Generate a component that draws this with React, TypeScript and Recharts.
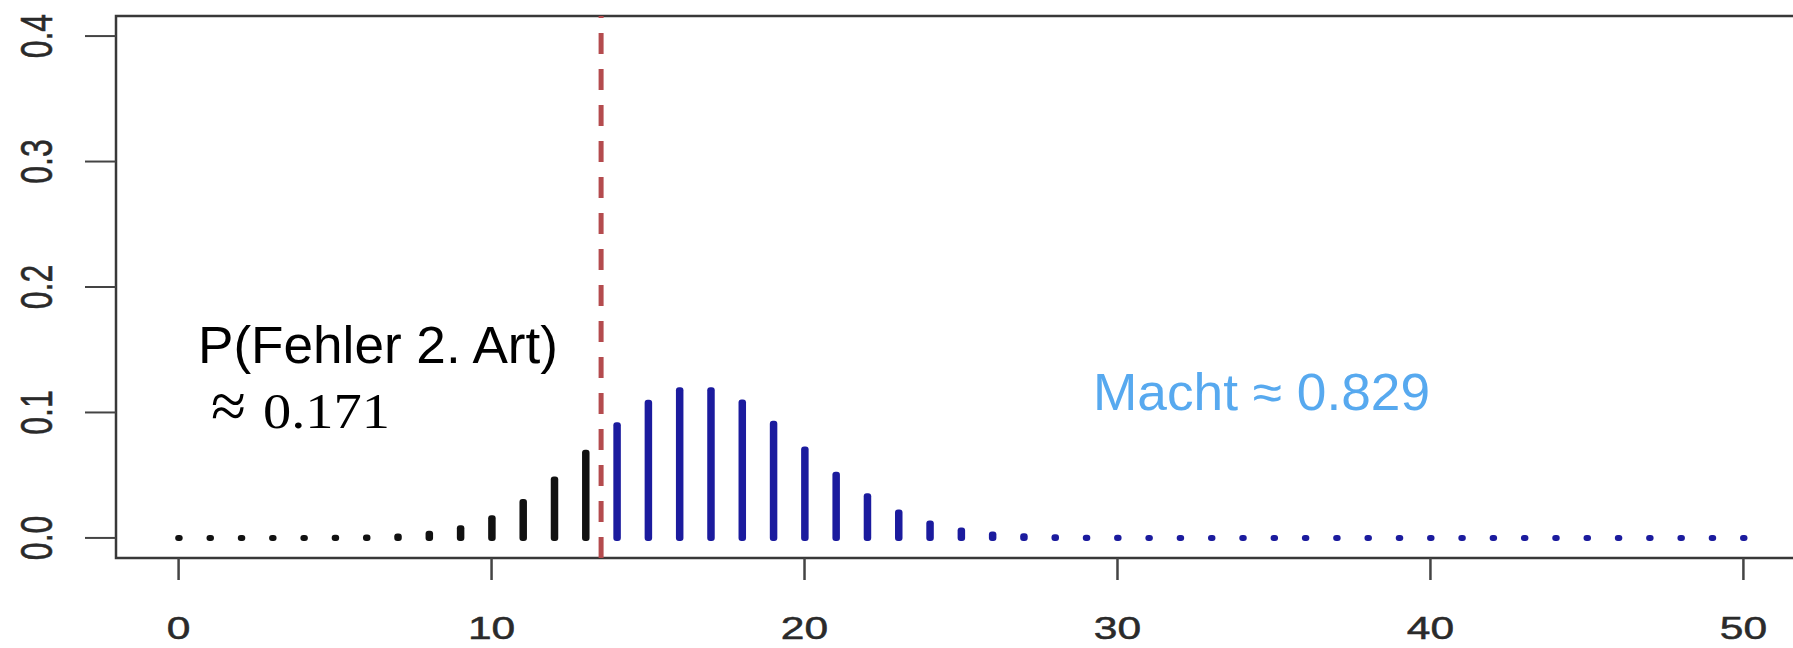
import React from "react";
import {
  Bar,
  ComposedChart,
  ReferenceArea,
  ReferenceLine,
  XAxis,
  YAxis,
} from "recharts";

// number of successes k = 0..50
const outcomes = [
  0, 1, 2, 3, 4, 5, 6, 7, 8, 9, 10, 11, 12, 13, 14, 15, 16, 17, 18, 19, 20,
  21, 22, 23, 24, 25, 26, 27, 28, 29, 30, 31, 32, 33, 34, 35, 36, 37, 38, 39,
  40, 41, 42, 43, 44, 45, 46, 47, 48, 49, 50,
];

// P(X = k)
const probabilities = [
  0, 0, 0, 0, 0.00001, 0.0001, 0.0004, 0.0012, 0.0033, 0.0077, 0.0157, 0.0286,
  0.0465, 0.0679, 0.0898, 0.1077, 0.1178, 0.1178, 0.108, 0.091, 0.0705, 0.0504,
  0.0332, 0.0202, 0.0114, 0.0059, 0.0028, 0.0013, 0.0005, 0.0002, 0.0001, 0, 0,
  0, 0, 0, 0, 0, 0, 0, 0, 0, 0, 0, 0, 0, 0, 0, 0, 0, 0,
];

const criticalValue = 13.5;
const xTicks = [0, 10, 20, 30, 40, 50];
const yTicks = [0, 0.1, 0.2, 0.3, 0.4];

const betaLabel = "P(Fehler 2. Art)";
const betaValue = "0.171";
const powerLabel = "Macht \u2248 0.829";

const data = outcomes.map((k, i) => ({ k, p: probabilities[i] }));

const sans = "'Liberation Sans', Arial, sans-serif";
const serif = "'Liberation Serif', 'Times New Roman', serif";

const Stick = (props: any) => {
  const { x, y, width, height, payload } = props;
  const cx = x + width / 2;
  const top = Math.min(y, y + height);
  const h = Math.abs(height);
  const color = payload.k < criticalValue ? "#111111" : "#1b1b9e";
  return (
    <rect x={cx - 3.75} y={top - 3} width={7.5} height={h + 6} rx={3} fill={color} />
  );
};

const XTick = ({ x, y, payload }: any) => (
  <text
    transform={`translate(${x},${y + 46}) scale(1.33,1)`}
    textAnchor="middle"
    dominantBaseline="central"
    fontSize={32}
    fontFamily={sans}
    fill="#2a2a2a"
    stroke="#2a2a2a"
    strokeWidth={0.5}
  >
    {payload.value}
  </text>
);

const YTick = ({ x, y, payload }: any) => (
  <text
    transform={`translate(${x - 46},${y}) scale(1.38,1) rotate(-90)`}
    textAnchor="middle"
    dominantBaseline="central"
    fontSize={32}
    fontFamily={sans}
    fill="#2a2a2a"
    stroke="#2a2a2a"
    strokeWidth={0.4}
  >
    {Number(payload.value).toFixed(1)}
  </text>
);

export default function App() {
  return (
    <div
      style={{
        position: "absolute",
        left: 0,
        top: 0,
        width: 1793,
        height: 648,
        overflow: "hidden",
        background: "#fff",
      }}
    >
      <ComposedChart
        width={1820}
        height={648}
        data={data}
        margin={{ top: 16, right: 14, bottom: 0, left: 0 }}
      >
        <XAxis
          dataKey="k"
          type="number"
          domain={[-2, 52]}
          allowDataOverflow
          ticks={xTicks}
          interval={0}
          height={90}
          axisLine={false}
          tickSize={22}
          tickLine={{ stroke: "#444", strokeWidth: 2.5 }}
          tick={<XTick />}
        />
        <YAxis
          type="number"
          domain={[-0.016, 0.416]}
          allowDataOverflow
          ticks={yTicks}
          interval={0}
          width={116}
          axisLine={false}
          tickSize={31}
          tickLine={{ stroke: "#444", strokeWidth: 2 }}
          tick={<YTick />}
        />
        <ReferenceArea
          x1={-2}
          x2={52}
          y1={-0.016}
          y2={0.416}
          ifOverflow="visible"
          fill="none"
          fillOpacity={0}
          stroke="#383838"
          strokeWidth={2.5}
        />
        <Bar
          dataKey="p"
          barSize={8}
          isAnimationActive={false}
          shape={<Stick />}
        />
        <ReferenceLine
          x={criticalValue}
          stroke="#b44b4e"
          strokeWidth={5}
          strokeDasharray="21 15"
          ifOverflow="visible"
        />
      </ComposedChart>
      <svg
        width={1793}
        height={648}
        style={{ position: "absolute", left: 0, top: 0, pointerEvents: "none" }}
      >
        <text
          x={198}
          y={363}
          fontSize={51}
          fontFamily={sans}
          fill="#000"
          textLength={360}
          lengthAdjust="spacingAndGlyphs"
        >
          {betaLabel}
        </text>
        <text
          x={211}
          y={428}
          fontSize={66}
          fontFamily={serif}
          fill="#000"
          textLength={35}
          lengthAdjust="spacingAndGlyphs"
        >
          {"\u2248"}
        </text>
        <text
          x={263}
          y={428}
          fontSize={50}
          fontFamily={serif}
          fill="#000"
          textLength={127}
          lengthAdjust="spacingAndGlyphs"
        >
          {betaValue}
        </text>
        <text
          x={1093}
          y={410}
          fontSize={52}
          fontFamily={sans}
          fill="#57a9ef"
          textLength={337}
          lengthAdjust="spacingAndGlyphs"
        >
          {powerLabel}
        </text>
      </svg>
    </div>
  );
}
